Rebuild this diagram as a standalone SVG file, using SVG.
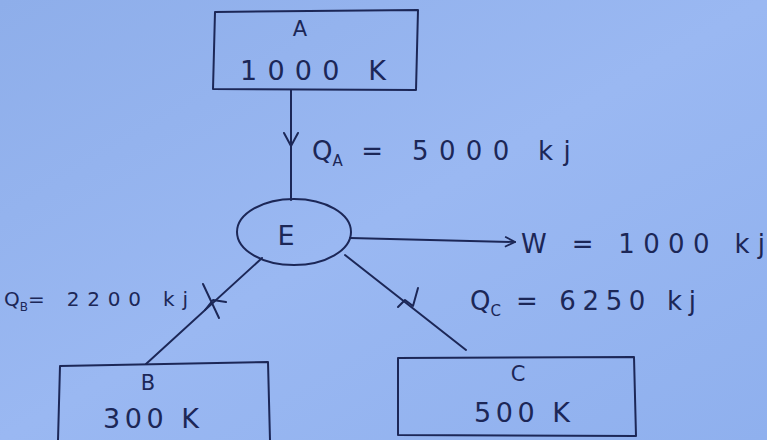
<svg xmlns="http://www.w3.org/2000/svg" width="767" height="440" viewBox="0 0 767 440">
<defs>
<linearGradient id="bg" x1="0" y1="0" x2="1" y2="1">
<stop offset="0" stop-color="#8eaeea"/>
<stop offset="0.5" stop-color="#9ab8f2"/>
<stop offset="1" stop-color="#8fb0ee"/>
</linearGradient>
<marker id="ah" viewBox="0 0 12 12" refX="11" refY="6" markerWidth="12" markerHeight="12" markerUnits="userSpaceOnUse" orient="auto">
<path d="M1,1 L11,6 L1,11" fill="none" stroke="#1c2757" stroke-width="1.8"/>
</marker>
<style>
.ink{fill:none;stroke:#1c2757;stroke-width:2;stroke-linecap:round;stroke-linejoin:round}
.t{fill:#1c2757;font-family:"DejaVu Sans",Verdana,sans-serif}
.big{font-size:27px}
.lbl{font-size:26px}
.sub{font-size:15px}
</style>
</defs>
<rect width="767" height="440" fill="url(#bg)"/>
<g id="connectors">
<line class="ink" x1="291" y1="90" x2="291" y2="200"/>
<path class="ink" d="M284,133 L291,146 L298,133"/>
<line class="ink" x1="350" y1="238" x2="515" y2="242" marker-end="url(#ah)"/>
<line class="ink" x1="262" y1="258" x2="146" y2="364"/>
<path class="ink" d="M203,284 L219,318 M205,310 L213,300 L226,302"/>
<line class="ink" x1="345" y1="255" x2="466" y2="350"/>
<path class="ink" d="M398,307 L405,300 L413,306 L418,288"/>
</g>
<g id="A">
<path class="ink" d="M215,12 L418,10 L416,90 L213,89 Z"/>
<text class="t" font-size="21" x="300" y="36" text-anchor="middle">A</text>
<text class="t big" x="240" y="80" textLength="146" lengthAdjust="spacing">1000 K</text>
</g>
<g id="E">
<ellipse class="ink" cx="294" cy="232" rx="57" ry="33"/>
<text class="t big" x="286" y="245" text-anchor="middle">E</text>
</g>
<g id="B">
<path class="ink" d="M60,366 L268,362 L270,440 M60,366 L58,440"/>
<text class="t" font-size="21" x="148" y="390" text-anchor="middle">B</text>
<text class="t big" x="103" y="428" textLength="96" lengthAdjust="spacing">300 K</text>
</g>
<g id="C">
<path class="ink" d="M398,358 L634,357 L636,436 L398,435 Z"/>
<text class="t" font-size="21" x="518" y="381" text-anchor="middle">C</text>
<text class="t big" x="474" y="422" textLength="96" lengthAdjust="spacing">500 K</text>
</g>
<g id="labels">
<text class="t lbl" x="312" y="160">Q<tspan class="sub" dy="6">A</tspan><tspan dy="-6" textLength="228" lengthAdjust="spacing"> = 5000 kj</tspan></text>
<text class="t lbl" x="521" y="253" textLength="244" lengthAdjust="spacing">W = 1000 kj</text>
<text class="t" font-size="20" x="4" y="306">Q<tspan font-size="12" dy="5">B</tspan><tspan dy="-5" textLength="160" lengthAdjust="spacing">= 2200 kj</tspan></text>
<text class="t lbl" x="470" y="310">Q<tspan class="sub" dy="6">C</tspan><tspan dy="-6" textLength="195" lengthAdjust="spacing"> = 6250 kj</tspan></text>
</g>
</svg>
